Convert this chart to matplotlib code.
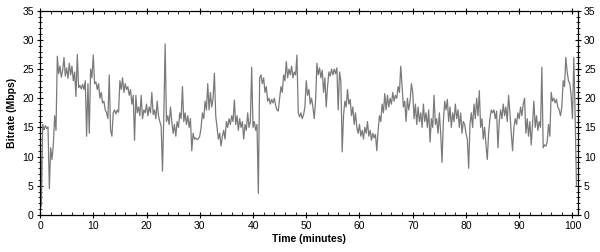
import matplotlib
matplotlib.use("Agg")
import matplotlib.pyplot as plt
import numpy as np
from matplotlib.ticker import MultipleLocator

# sample spacing of the trace, minutes
step = 0.25

# bitrate (Mbps), one row per 5 minutes
bitrate = [
    16, 1.5, 15.5, 14.6, 15.3, 14.8, 15.1, 4.5, 11.5, 9.5, 12, 17, 14.5, 27.2, 24.2, 25.5, 23.6, 24.8, 27, 23.8,
    25.2, 23.4, 26, 24, 25.5, 23, 24.5, 20.3, 27.5, 21.8, 22.2, 21.6, 22.4, 21.5, 23, 13.5, 22.5, 14, 25, 23.5,
    27.4, 22.5, 22.8, 21.5, 22.5, 20, 21, 19.2, 19.5, 18, 17.5, 16.5, 24, 14.5, 13.5, 17.5, 18, 17.3, 18, 17.6,
    23, 21.5, 23.5, 21, 22.5, 21.5, 22, 20.5, 21.5, 19, 20.5, 12.8, 20.5, 17.5, 18.5, 17, 20.5, 16.5, 18, 17.5,
    19, 17, 18.5, 17.5, 21, 17.2, 18, 16.5, 19.5, 17, 16, 15.2, 7.5, 17, 29.3, 16, 17, 15.5, 18.5, 16,
    14, 15.5, 13.5, 16, 15, 17.5, 16.5, 22, 16, 17.5, 15.5, 17, 15, 16.5, 11, 14, 13, 13.2, 12.9, 13.1,
    13.5, 15, 17.5, 16.5, 19.5, 18, 22.5, 18, 21, 18.5, 20, 24.3, 17, 15, 13, 14, 11.8, 13.5, 14.5, 13,
    16, 15, 16.5, 15.5, 17, 16, 19.7, 15.5, 17, 14.5, 16.5, 15, 16, 13, 15.5, 14.5, 17.5, 15, 16, 25.3,
    15, 16, 14.5, 15.5, 3.7, 23.5, 24, 22.5, 23.5, 21, 22, 19.5, 20, 19, 19.8, 19.2, 20, 18.8, 18, 17.8,
    20, 22, 21, 24, 23, 26.3, 23.5, 25, 24, 25.5, 23.5, 24.5, 24, 27.4, 17.5, 16.8, 17.5, 16.5, 17.2, 18.5,
    23, 20.5, 21.5, 19, 20, 18.5, 16.5, 19.5, 26, 24, 25.2, 23.5, 24.8, 21, 23.5, 18.5, 22, 24.5, 23.8, 25,
    24, 25, 24.2, 25.2, 18, 24.5, 23, 10.8, 17, 19.5, 18.5, 21.5, 19, 19.8, 17, 18.5, 15.5, 17.5, 15, 14,
    15.5, 13.5, 14.5, 13, 15, 14, 16, 13.5, 14.5, 12.8, 14, 13.2, 13.8, 11, 14.5, 17, 16, 19, 17.5, 20.8,
    18, 20.5, 18.5, 20, 19, 21, 19.5, 20.5, 20, 22, 21, 25.5, 22, 18.5, 19.5, 16, 20, 18, 19.5, 22.5,
    21, 16.5, 19, 15.5, 18.5, 16, 17.5, 15, 19, 16, 17.5, 15, 18, 12.5, 16.5, 15, 20.5, 15.5, 16.5, 14,
    17.5, 14, 9, 16, 19.5, 18, 19.8, 16, 18.5, 15, 17.5, 16, 19, 16.5, 18, 15, 17.5, 14, 16, 15.5,
    14, 13, 8, 15.5, 17.5, 15, 19, 16.5, 20, 17, 21.3, 15, 16.5, 13, 15, 12, 9.5, 14, 16.5, 18,
    17.5, 18, 16.5, 17.8, 11.5, 16, 18, 16.5, 19, 17, 18.5, 16, 20.5, 17.5, 14, 11, 15, 16.5, 15.5, 17.5,
    16.5, 18.5, 17, 19, 20, 14, 16.5, 13.5, 16, 12, 15.5, 19.5, 15, 17, 14.5, 16, 15, 25.3, 11.5, 12,
    11.8, 12.5, 15.5, 13.5, 21, 19.5, 20, 19.2, 19.8, 18.5, 18, 17, 18.5, 23, 22, 27, 24.5, 23, 22.5, 20.5,
    16.5, 27, 17, 5,
]
minutes = np.arange(len(bitrate)) * step

plt.rcParams['font.family'] = ['Liberation Sans', 'DejaVu Sans']

fig = plt.figure(figsize=(6, 2.52), dpi=100)
ax = fig.add_axes([0.0667, 0.147, 0.8963, 0.8105])

ax.plot(minutes, bitrate, color="#7a7a7a", linewidth=0.9)

ax.set_xlim(0, 101)
ax.set_ylim(0, 35)
ax.xaxis.set_major_locator(MultipleLocator(10))
ax.xaxis.set_minor_locator(MultipleLocator(2))
ax.yaxis.set_major_locator(MultipleLocator(5))
ax.yaxis.set_minor_locator(MultipleLocator(1))

ax.tick_params(which="major", direction="inout", length=5, width=0.8, labelsize=7.5,
               top=True, right=True, labelright=True, pad=2)
ax.tick_params(axis="x", which="minor", direction="in", length=2.5, width=0.6, top=True)
ax.tick_params(axis="y", which="minor", direction="inout", length=3, width=0.6, right=True)
for s in ax.spines.values():
    s.set_linewidth(0.9)

ax.set_xlabel("Time (minutes)", fontsize=7.5, fontweight="bold", labelpad=2)
ax.set_ylabel("Bitrate (Mbps)", fontsize=7.5, fontweight="bold", labelpad=4)

plt.savefig("out.png", dpi=100)
